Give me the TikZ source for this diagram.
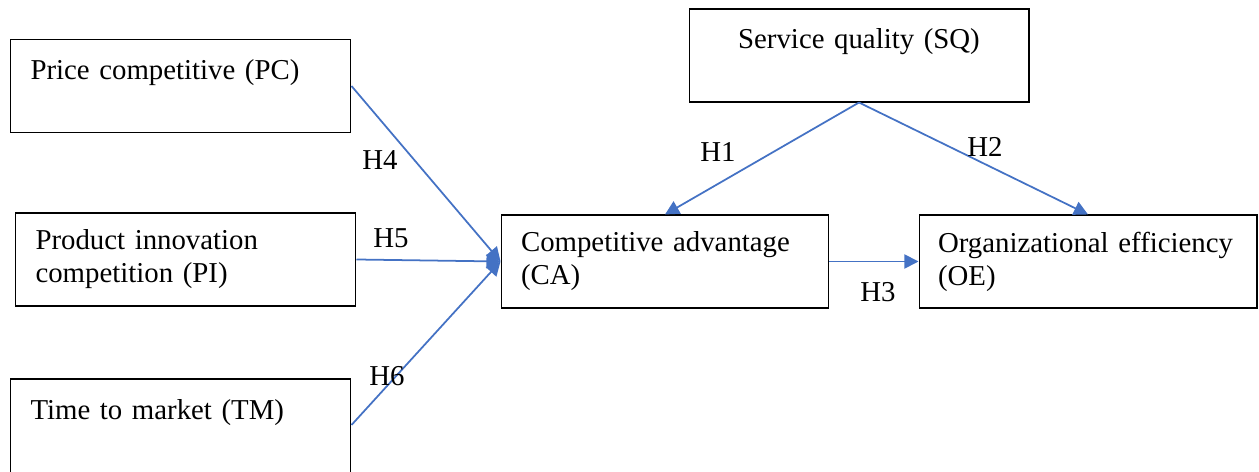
\documentclass[tikz,border=0pt]{standalone}
\usepackage{fontspec}
\setmainfont{Liberation Serif}
\usetikzlibrary{arrows.meta}
\definecolor{linkblue}{RGB}{68,114,196}

\begin{document}
\begin{tikzpicture}[x=0.02cm, y=-0.02cm,
    font=\fontsize{16.4}{18.8}\selectfont,
    varbox/.style={draw, line width=0.6pt, minimum height=1.86cm, inner sep=0pt},
    path/.style={draw=linkblue, line width=1pt, -{Triangle[length=8pt, width=8pt]}},
    hyp/.style={inner sep=0pt}]
    \useasboundingbox (0,0) rectangle (1259,472);
    % Left-hand constructs
    \node[varbox, minimum width=6.82cm, text width=6.0cm, align=left] (pc) at (180.5,86)
        {Price competitive (PC)\\ \mbox{}};
    \node[varbox, minimum width=6.82cm, text width=6.0cm, align=left] (pi) at (185.5,259.5)
        {Product innovation\\ competition (PI)};
    \node[varbox, minimum width=6.82cm, minimum height=2.56cm, text width=6.0cm, align=left] (tm) at (180.5,443)
        {Time to market (TM)\\ \mbox{}\\ \mbox{}};
    % Service quality
    \node[varbox, minimum width=6.80cm, text width=6.0cm, align=center] (sq) at (859,55.5)
        {Service quality (SQ)\\ \mbox{}};
    % Mediator and outcome
    \node[varbox, minimum width=6.56cm, text width=5.76cm, align=left] (ca) at (665,261.5)
        {Competitive advantage\\ (CA)};
    \node[varbox, minimum width=6.76cm, text width=6.0cm, align=left] (oe) at (1088,261.5)
        {Organizational efficiency\\ (OE)};
    % Hypothesised paths
    \coordinate (tmout) at (tm.east |- 0,425);
    \draw[path] (pc.east) -- (ca.west);
    \draw[path] (pi.east) -- (ca.west);
    \draw[path] (tmout) -- (ca.west);
    \draw[path] (sq.south) -- (ca.north);
    \draw[path] (sq.south) -- (oe.north);
    \draw[path] (ca.east) -- (oe.west);
    % Path labels
    \node[hyp] (h1) at (718,152) {H1};
    \node[hyp] (h2) at (985,147) {H2};
    \node[hyp] (h3) at (878,292) {H3};
    \node[hyp] (h4) at (380,160) {H4};
    \node[hyp] (h5) at (391,238) {H5};
    \node[hyp] (h6) at (387,376) {H6};
\end{tikzpicture}
\end{document}
